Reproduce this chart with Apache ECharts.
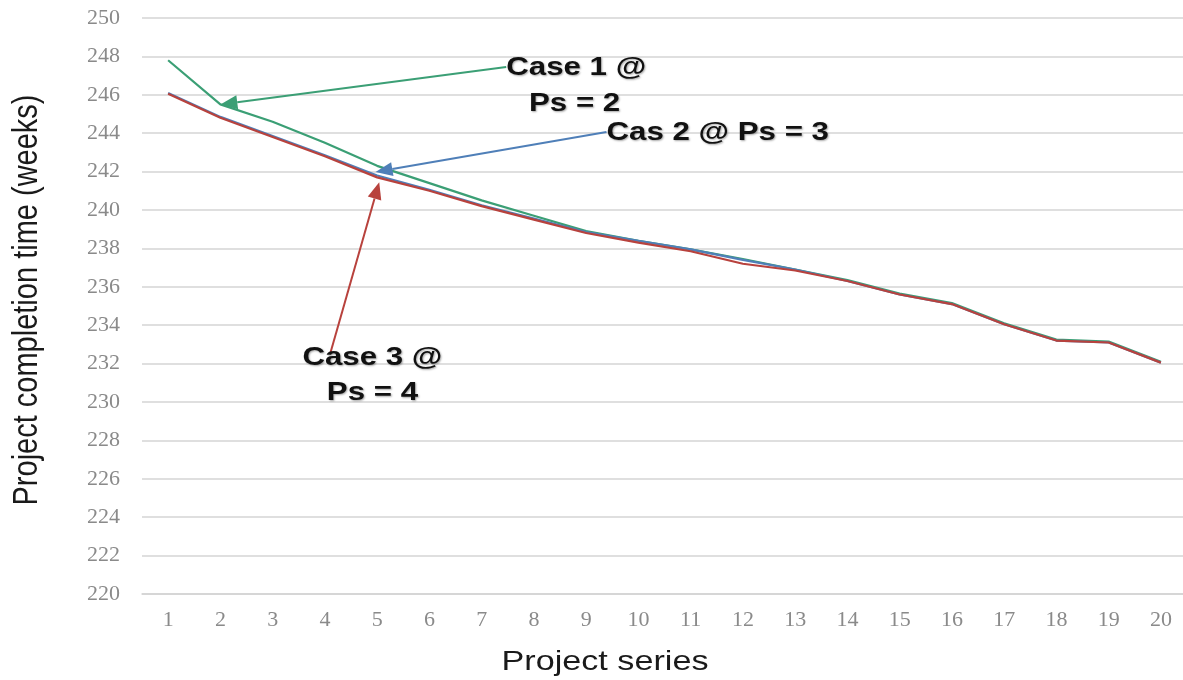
<!DOCTYPE html>
<html><head><meta charset="utf-8">
<script src="https://cdn.jsdelivr.net/npm/echarts@6/dist/echarts.min.js"></script>
<style>html,body{margin:0;padding:0;background:#fff}#c{width:1183px;height:680px}</style>
</head><body><div id="c"></div>
<script>
// ---- data ----
const categories = ['1','2','3','4','5','6','7','8','9','10','11','12','13','14','15','16','17','18','19','20'];
const case1 = [247.8, 245.5, 244.6, 243.5, 242.3, 241.4, 240.5, 239.7, 238.9, 238.4, 237.95, 237.45, 236.9, 236.35, 235.65, 235.15, 234.1, 233.25, 233.15, 232.1];
const case2 = [246.1, 244.85, 243.85, 242.85, 241.8, 241.05, 240.25, 239.55, 238.85, 238.4, 237.95, 237.4, 236.9, 236.3, 235.6, 235.1, 234.05, 233.2, 233.1, 232.05];
const case3 = [246.05, 244.8, 243.8, 242.8, 241.7, 241.0, 240.2, 239.5, 238.8, 238.3, 237.85, 237.2, 236.85, 236.3, 235.6, 235.1, 234.05, 233.2, 233.1, 232.05];
const yMin = 220, yMax = 250, yStep = 2;
const xTitle = 'Project series';
const yTitle = 'Project completion time (weeks)';
// annotation anchors in data units (x on a 1..20 scale, y in weeks)
const labels = [
  {text: 'Case 1 @', at: [7.47, 247.4], align: 'left'},
  {text: 'Ps = 2', at: [8.78, 245.55], align: 'center'},
  {text: 'Cas 2 @ Ps = 3', at: [9.39, 244.0], align: 'left'},
  {text: 'Case 3 @', at: [3.57, 232.3], align: 'left'},
  {text: 'Ps = 4', at: [4.91, 230.5], align: 'center'}
];
const arrows = [
  {from: [7.47, 247.45], to: [2.0, 245.5], color: '#3b9f75'},
  {from: [9.39, 244.06], to: [4.97, 241.98], color: '#4f7fb8'},
  {from: [4.10, 232.5], to: [5.04, 241.45], color: '#b8423d'}
];
const colors = {c1: '#3b9f75', c2: '#4f7fb8', c3: '#b8423d'};

const chart = echarts.init(document.getElementById('c'), null, {renderer: 'canvas'});
const labelFont = {fontFamily: '"Liberation Serif", "DejaVu Serif", serif', fontSize: 22, color: '#8a8a8a'};
chart.setOption({
  animation: false,
  backgroundColor: '#fff',
  grid: {left: 142, top: 18, width: 1045, height: 576, containLabel: false, outerBoundsMode: 'none'},
  xAxis: [{
    type: 'category', data: categories, boundaryGap: true,
    axisLine: {show: true, lineStyle: {color: '#d4d4d4', width: 1.5}},
    axisTick: {show: false},
    axisLabel: Object.assign({margin: 15}, labelFont)
  }, {
    type: 'value', min: 0.5, max: 20.5, show: false, gridIndex: 0, position: 'top'
  }],
  yAxis: {
    type: 'value', min: yMin, max: yMax, interval: yStep,
    axisLine: {show: false}, axisTick: {show: false},
    axisLabel: Object.assign({margin: 22}, labelFont),
    splitLine: {lineStyle: {color: '#d4d4d4', width: 1.5}}
  },
  series: [
    {name: 'Case 1', type: 'line', data: case1, symbol: 'none', lineStyle: {color: colors.c1, width: 2.2}, z: 2},
    {name: 'Case 2', type: 'line', data: case2, symbol: 'none', lineStyle: {color: colors.c2, width: 2.2}, z: 3},
    {name: 'Case 3', type: 'line', data: case3, symbol: 'none', lineStyle: {color: colors.c3, width: 2.2}, z: 4}
  ]
});

function px(p) {
  const x = chart.convertToPixel({xAxisIndex: 1}, p[0]);
  const y = chart.convertToPixel({yAxisIndex: 0}, p[1]);
  return [x, y];
}
const g = [];
arrows.forEach(a => {
  const f = px(a.from), t = px(a.to);
  const dx = t[0] - f[0], dy = t[1] - f[1];
  const len = Math.hypot(dx, dy);
  const ux = dx / len, uy = dy / len;
  const L = 17, W = 7;
  const bx = t[0] - ux * L, by = t[1] - uy * L;
  g.push({type: 'line', shape: {x1: f[0], y1: f[1], x2: bx, y2: by}, style: {stroke: a.color, lineWidth: 2}, z: 10});
  g.push({type: 'polygon', shape: {points: [t, [bx - uy * W, by + ux * W], [bx + uy * W, by - ux * W]]}, style: {fill: a.color}, z: 10});
});
labels.forEach(l => {
  const p = px(l.at);
  g.push({type: 'text', x: p[0], y: p[1], scaleX: 1.25, scaleY: 1.05, z: 11,
    style: {text: l.text, x: 0, y: 0, textAlign: l.align, textVerticalAlign: 'middle',
      font: 'bold 25px "Liberation Sans", Arial, sans-serif', fill: '#111',
      textShadowColor: 'rgba(0,0,0,0.35)', textShadowBlur: 2, textShadowOffsetX: 1, textShadowOffsetY: 1}});
});
g.push({type: 'text', x: 605, y: 662, scaleX: 1.22, z: 11,
  style: {text: xTitle, x: 0, y: 0, textAlign: 'center', textVerticalAlign: 'middle',
    font: '28px "Liberation Sans", Arial, sans-serif', fill: '#1a1a1a'}});
g.push({type: 'text', x: 27, y: 300, rotation: Math.PI / 2, scaleY: 1.2, z: 11,
  style: {text: yTitle, x: 0, y: 0, textAlign: 'center', textVerticalAlign: 'middle',
    font: '29px "Liberation Sans", Arial, sans-serif', fill: '#1a1a1a'}});
chart.setOption({graphic: {elements: g}});
</script>
</body></html>
